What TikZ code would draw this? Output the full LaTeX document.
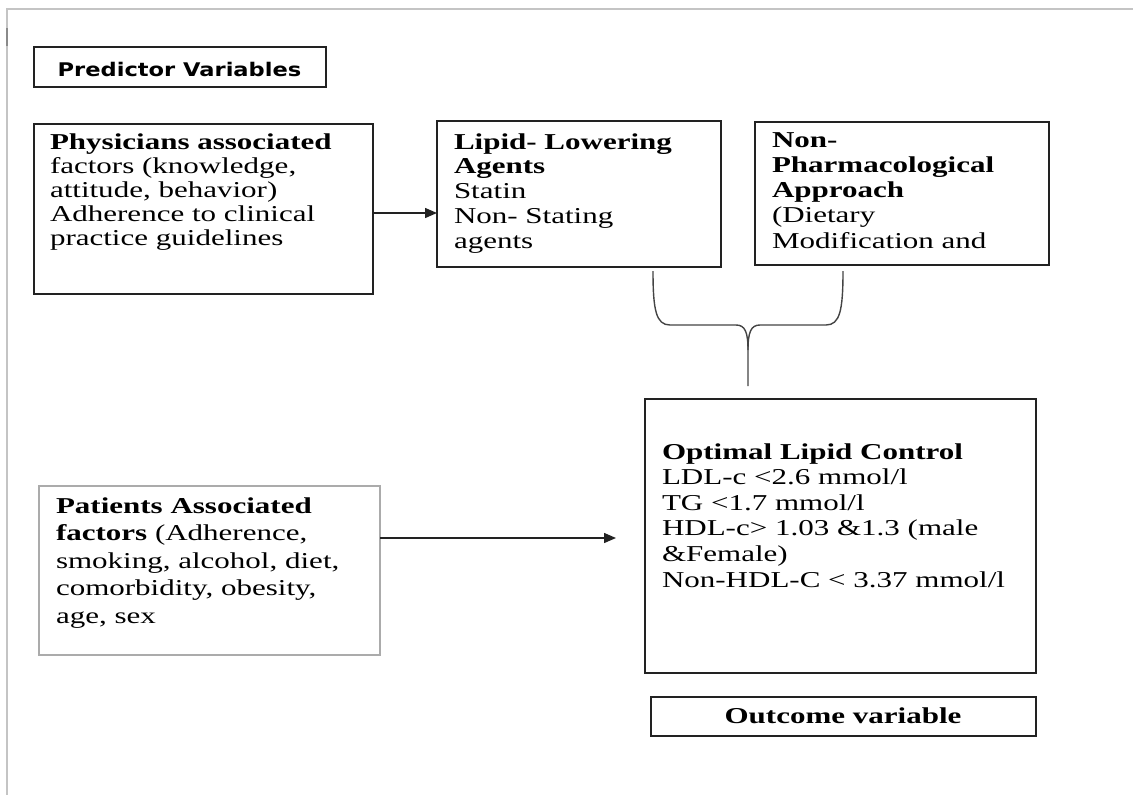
\documentclass[tikz,border=0pt]{standalone}
\usepackage{fontspec}
\usetikzlibrary{arrows.meta}
\newfontfamily\bodyfont{Liberation Serif}[FakeStretch=1.366]
\newfontfamily\headfont{DejaVu Sans}[FakeStretch=1.2]
\newcommand\firstline{\rule{0pt}{16pt}}
\definecolor{framegray}{HTML}{C4C4C4}
\definecolor{framedark}{HTML}{8A8A8A}
\definecolor{boxline}{HTML}{222222}
\definecolor{lightbox}{HTML}{ABABAB}
\definecolor{bracegray}{HTML}{444444}
\begin{document}
\begin{tikzpicture}[x=1pt,y=-1pt,
  box/.style={draw=boxline, line width=1.5pt, inner sep=0pt, outer sep=0pt, anchor=north west},
  lbox/.style={draw=lightbox, line width=1.2pt, inner sep=0pt, outer sep=0pt, anchor=north west},
  txt/.style={anchor=north west, inner sep=0pt, outer sep=0pt, align=left,
    font=\bodyfont\fontsize{22.7}{#1}\selectfont},
  txt/.default=24.5,
  arr/.style={line width=1.4pt, draw=boxline, -{Triangle[length=12pt,width=10pt]}},
  bracepath/.style={line width=1.4pt, draw=bracegray}
]
\useasboundingbox (0,0) rectangle (1133,795);
% page frame
\draw[framegray, line width=1.5pt] (7,795) -- (7,9) -- (1133,9);
\draw[framedark, line width=2pt] (7,28) -- (7,46);

% header box
\node[box, minimum width=292pt, minimum height=40pt] (pred) at (34,47) {};
\node[anchor=base, inner sep=0pt, font=\headfont\bfseries\fontsize{18.8}{22}\selectfont] (predt) at (179.5,76.5) {Predictor Variables};

% physicians
\node[box, minimum width=339pt, minimum height=170pt] (phys) at (34,124) {};
\node[txt=24] (physt) at (50,133) {\firstline\textbf{Physicians associated}\\factors (knowledge,\\attitude, behavior)\\Adherence to clinical\\practice guidelines};

% lipid lowering
\node[box, minimum width=284pt, minimum height=146pt] (lipid) at (437,121) {};
\node[txt=24.75] (lipidt) at (454,133) {\firstline\textbf{Lipid- Lowering}\\\textbf{Agents}\\Statin\\Non- Stating\\agents};

% non-pharmacological
\node[box, minimum width=294pt, minimum height=143pt] (nonph) at (755,122) {};
\node[txt=25.25] (nonpht) at (772,131) {\firstline\textbf{Non-}\\\textbf{Pharmacological}\\\textbf{Approach}\\(Dietary\\Modification and};

% patients
\node[lbox, minimum width=341pt, minimum height=169pt] (pat) at (39,486) {};
\node[txt=27.5] (patt) at (56,497) {\firstline\textbf{Patients Associated}\\\textbf{factors} (Adherence,\\smoking, alcohol, diet,\\comorbidity, obesity,\\age, sex};

% optimal lipid control
\node[box, minimum width=391pt, minimum height=274pt] (opt) at (645,399) {};
\node[txt=25.6] (optt) at (662,443) {\firstline\textbf{Optimal Lipid Control}\\LDL-c <2.6 mmol/l\\TG <1.7 mmol/l\\HDL-c> 1.03 \&1.3 (male\\\&Female)\\Non-HDL-C < 3.37 mmol/l};

% outcome
\node[box, minimum width=385pt, minimum height=39pt, line width=1.8pt] (outc) at (651,697) {};
\node[anchor=base, inner sep=0pt, font=\bodyfont\bfseries\fontsize{22.7}{25}\selectfont] (outct) at (843,723) {Outcome variable};

% connectors
\coordinate (patend) at (616,538);
\draw[arr] (phys.east |- 0,213) -- (lipid.west |- 0,213);
\draw[arr] (pat.east |- 0,538) -- (patend);

% brace joining the two treatment boxes
\coordinate (bl) at (653,271);
\coordinate (br) at (843,271);
\coordinate (btip) at (748,386);
\draw[bracepath] (bl) .. controls (653,310) and (656,325) .. (670,325) -- (736,325)
  .. controls (745,325) and (748,332) .. (748,350) -- (btip);
\draw[bracepath] (br) .. controls (843,310) and (840,325) .. (826,325) -- (760,325)
  .. controls (751,325) and (748,332) .. (748,350);
\end{tikzpicture}
\end{document}
